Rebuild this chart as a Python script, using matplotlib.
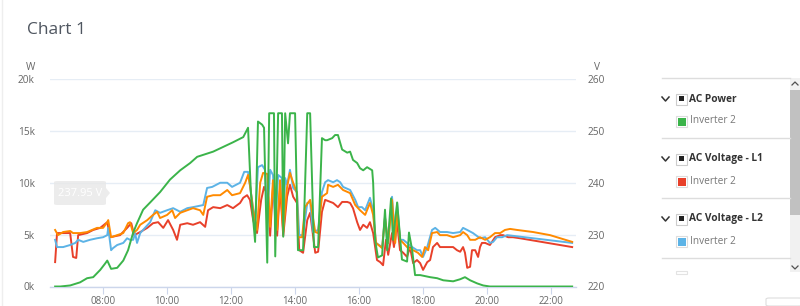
import matplotlib
matplotlib.use("Agg")
import matplotlib.pyplot as plt
from matplotlib.patches import Rectangle, FancyBboxPatch, Polygon
from matplotlib.lines import Line2D

plt.rcParams['font.family'] = ['Open Sans', 'DejaVu Sans']

# ---------------- data (hours of day, kW / V) ----------------
power_t = [6.50, 6.66, 6.97, 7.28, 7.50, 7.69, 7.91, 8.06, 8.13, 8.25, 8.44, 8.63, 8.78, 8.94,
           9.06, 9.25, 9.47, 9.78, 10.09, 10.41, 10.72, 10.94, 11.44, 12.06, 12.38, 12.53,
           12.62, 12.75, 12.84, 12.97, 13.03, 13.13, 13.19, 13.34, 13.38, 13.47, 13.59, 13.63,
           13.69, 13.78, 13.84, 14.00, 14.09, 14.25, 14.38, 14.47, 14.59, 14.72, 14.84, 14.94,
           15.00, 15.16, 15.25, 15.34, 15.47, 15.63, 15.72, 15.81, 15.94, 16.03, 16.13, 16.25,
           16.41, 16.44, 16.50, 16.59, 16.72, 16.81, 16.88, 17.00, 17.06, 17.19, 17.34, 17.50,
           17.56, 17.66, 17.75, 17.91, 18.22, 18.44, 18.63, 18.94, 19.16, 19.31, 19.47, 19.69,
           19.88, 20.09, 22.66]
power_kw = [0.0, 0.0, 0.1, 0.4, 0.8, 0.9, 1.6, 2.2, 2.5, 1.7, 1.8, 2.5, 3.5, 5.2,
            6.1, 7.4, 8.1, 9.1, 10.3, 11.2, 11.9, 12.5, 13.0, 13.9, 14.4, 15.3,
            9.0, 4.3, 15.9, 15.6, 15.3, 2.3, 16.7, 16.7, 2.9, 16.7, 16.7, 4.8,
            16.7, 13.8, 16.7, 16.7, 3.5, 3.5, 16.7, 16.7, 3.8, 3.8, 14.3, 14.1,
            14.1, 14.3, 14.6, 14.6, 13.2, 12.9, 13.0, 12.2, 11.9, 11.4, 11.2, 11.5,
            11.2, 10.0, 4.5, 2.8, 3.0, 7.4, 3.5, 8.5, 4.5, 8.1, 2.6, 2.4,
            5.2, 3.5, 1.1, 1.1, 0.9, 0.8, 0.6, 0.5, 0.7, 0.9, 0.6, 0.3,
            0.1, 0.0, 0.0]

l1_t = [6.50, 6.56, 6.97, 7.06, 7.16, 7.22, 7.50, 7.69, 7.91, 8.13, 8.22, 8.53, 8.75, 8.88,
        8.97, 9.16, 9.38, 9.56, 9.72, 9.88, 10.03, 10.19, 10.31, 10.41, 10.63, 10.81, 11.03,
        11.19, 11.28, 11.44, 11.66, 11.88, 12.06, 12.28, 12.38, 12.50, 12.59, 12.69, 12.81,
        12.94, 13.03, 13.16, 13.22, 13.31, 13.44, 13.53, 13.63, 13.75, 13.84, 13.94, 14.06,
        14.13, 14.25, 14.38, 14.47, 14.63, 14.72, 14.84, 14.94, 15.19, 15.34, 15.47, 15.63,
        15.72, 15.81, 15.94, 16.03, 16.13, 16.25, 16.34, 16.44, 16.56, 16.66, 16.75, 16.84,
        16.91, 17.03, 17.09, 17.19, 17.28, 17.38, 17.50, 17.59, 17.69, 17.81, 17.91, 18.00,
        18.13, 18.22, 18.31, 18.44, 18.53, 18.75, 18.94, 19.06, 19.16, 19.25, 19.31, 19.38,
        19.47, 19.53, 19.63, 19.72, 19.78, 19.84, 19.94, 20.09, 20.25, 20.41, 20.50, 20.66,
        20.81, 21.03, 22.66]
l1_v = [224.7, 230.3, 230.3, 225.7, 225.5, 229.9, 230.3, 230.9, 231.3, 232.4, 229.5, 229.9, 231.3, 232.2,
        229.9, 230.5, 231.3, 232.2, 232.4, 231.3, 232.8, 230.9, 229.0, 231.9, 232.2, 231.9, 232.4,
        231.5, 234.7, 235.3, 235.1, 235.7, 235.1, 236.1, 237.1, 237.6, 236.7, 232.8, 230.3,
        236.7, 239.2, 237.3, 229.8, 239.2, 229.8, 239.0, 229.8, 237.3, 239.6, 237.3, 236.1,
        227.0, 226.5, 232.8, 234.2, 226.5, 226.7, 234.4, 236.7, 236.1, 235.3, 236.3, 236.3,
        236.1, 235.1, 232.4, 230.9, 231.9, 231.3, 232.4, 230.3, 225.1, 224.7, 224.1, 229.0,
        226.1, 230.3, 227.6, 232.2, 227.0, 226.5, 225.7, 227.6, 224.5, 225.1, 224.5, 223.2,
        224.7, 225.1, 227.6, 228.4, 227.6, 227.6, 227.6, 227.0, 226.7, 227.6, 226.5, 223.6,
        223.8, 227.0, 227.0, 225.7, 227.6, 228.4, 228.4, 228.0, 229.5, 229.9, 229.9, 229.5,
        229.5, 229.3, 227.6]

l2_t = [6.50, 6.56, 6.75, 6.97, 7.13, 7.22, 7.38, 7.59, 7.81, 8.00, 8.13, 8.16, 8.25, 8.31,
        8.44, 8.63, 8.75, 8.84, 8.94, 9.00, 9.06, 9.16, 9.47, 9.63, 9.78, 10.00, 10.19, 10.41,
        10.63, 10.81, 11.13, 11.25, 11.41, 11.66, 11.88, 12.03, 12.28, 12.41, 12.53, 12.66,
        12.75, 12.84, 12.97, 13.06, 13.13, 13.22, 13.31, 13.38, 13.47, 13.59, 13.63, 13.69,
        13.75, 13.84, 13.94, 14.06, 14.13, 14.25, 14.38, 14.47, 14.56, 14.72, 14.84, 14.94,
        15.03, 15.19, 15.31, 15.41, 15.50, 15.72, 15.88, 15.97, 16.09, 16.19, 16.34, 16.44,
        16.53, 16.72, 16.81, 16.91, 17.03, 17.13, 17.19, 17.28, 17.38, 17.50, 17.66, 17.81,
        17.91, 18.00, 18.13, 18.28, 18.38, 18.53, 18.75, 18.94, 19.16, 19.25, 19.38, 19.56,
        19.78, 19.94, 20.09, 20.19, 20.31, 20.47, 20.63, 22.66]
l2_v = [229.0, 227.6, 227.6, 228.0, 228.4, 229.0, 228.6, 229.0, 229.3, 229.5, 229.9, 231.3, 227.0, 227.4,
        228.0, 228.4, 229.3, 229.0, 229.0, 230.3, 228.4, 230.3, 232.4, 234.7, 234.2, 234.7, 235.1, 234.4,
        235.1, 235.3, 235.7, 239.0, 239.2, 240.0, 240.0, 239.2, 240.0, 242.1, 242.1, 236.3,
        232.4, 243.0, 243.4, 242.5, 233.2, 242.5, 241.5, 232.4, 241.5, 240.9, 231.9, 240.9,
        239.6, 242.5, 239.0, 238.2, 229.9, 229.9, 236.1, 236.3, 230.5, 230.9, 238.2, 240.1,
        240.5, 240.1, 240.5, 240.1, 239.2, 238.6, 236.7, 235.3, 235.3, 234.7, 237.1, 234.7,
        228.4, 227.6, 233.4, 228.4, 237.3, 229.0, 236.1, 229.0, 229.0, 228.4, 227.6, 227.0,
        227.0, 225.7, 227.6, 230.9, 231.3, 230.5, 230.5, 230.3, 230.5, 231.3, 230.9, 230.3,
        229.3, 229.5, 228.4, 228.6, 229.5, 229.5, 229.9, 228.4]

l3_t = [6.50, 6.59, 6.75, 6.97, 7.06, 7.28, 7.50, 7.81, 8.00, 8.13, 8.16, 8.25, 8.44, 8.63,
        8.78, 8.84, 8.94, 9.06, 9.16, 9.38, 9.56, 9.69, 9.78, 10.00, 10.16, 10.25, 10.41, 10.63,
        10.81, 11.03, 11.13, 11.25, 11.44, 11.66, 11.88, 12.03, 12.28, 12.44, 12.53, 12.59,
        12.69, 12.81, 12.91, 13.00, 13.13, 13.22, 13.31, 13.44, 13.53, 13.63, 13.75, 13.84,
        13.94, 14.06, 14.09, 14.22, 14.31, 14.47, 14.63, 14.72, 14.84, 15.00, 15.03, 15.19,
        15.34, 15.50, 15.72, 15.88, 16.03, 16.19, 16.34, 16.44, 16.53, 16.72, 16.81, 16.91,
        17.03, 17.13, 17.19, 17.28, 17.38, 17.53, 17.69, 17.84, 17.97, 18.06, 18.16, 18.28,
        18.44, 18.53, 18.75, 18.94, 19.16, 19.25, 19.38, 19.47, 19.63, 19.78, 19.94, 20.09,
        20.25, 20.41, 20.56, 20.72, 20.94, 21.44, 21.97, 22.66]
l3_v = [230.9, 229.9, 230.5, 230.7, 230.3, 230.3, 230.5, 231.3, 231.3, 232.4, 232.8, 229.5, 229.9, 230.3,
        232.2, 232.4, 230.3, 230.9, 231.9, 232.8, 233.8, 234.4, 233.2, 233.8, 234.7, 233.2, 234.2, 234.7,
        235.1, 234.7, 233.8, 237.3, 237.6, 237.6, 238.6, 237.6, 238.0, 240.0, 241.5, 239.6,
        234.7, 230.9, 240.0, 241.9, 241.7, 231.5, 240.5, 230.9, 240.5, 230.5, 239.2, 241.9,
        240.0, 238.0, 229.5, 229.5, 235.3, 236.7, 230.5, 230.3, 237.3, 238.0, 239.6, 239.2,
        239.6, 238.6, 238.0, 235.7, 234.7, 233.8, 236.1, 233.8, 228.4, 227.4, 233.2, 228.4,
        236.7, 228.4, 234.7, 229.0, 228.4, 227.4, 227.0, 226.5, 225.7, 227.6, 227.0, 230.3,
        230.5, 229.9, 229.9, 229.5, 229.9, 230.5, 229.9, 229.0, 229.0, 229.5, 229.0, 229.5,
        230.3, 230.3, 230.9, 231.1, 230.9, 230.5, 229.9, 228.6]

x_ticks = [8, 10, 12, 14, 16, 18, 20, 22]
x_tick_labels = ["08:00", "10:00", "12:00", "14:00", "16:00", "18:00", "20:00", "22:00"]
w_ticks = [0, 5000, 10000, 15000, 20000]
w_tick_labels = ["0k", "5k", "10k", "15k", "20k"]
v_ticks = [220, 230, 240, 250, 260]
v_tick_labels = ["220", "230", "240", "250", "260"]

legend_groups = ["AC Power", "AC Voltage - L1", "AC Voltage - L2"]
legend_items = ["Inverter 2", "Inverter 2", "Inverter 2"]

GREEN = "#3bb44a"
RED = "#e8402a"
BLUE = "#5cb3e6"
ORANGE = "#ff8a00"
TXT = "#666666"

# ---------------- figure ----------------
W, H = 800, 306
fig = plt.figure(figsize=(W / 100, H / 100), dpi=100)
fig.patch.set_facecolor("white")

def fx(x):
    return x / W

def fy(y):
    return 1 - y / H

left, right, top, bot = 50, 576, 79, 286.5
ax2 = fig.add_axes([fx(left), fy(bot), (right - left) / W, (bot - top) / H])
ax = ax2.twinx()
ax.set_zorder(ax2.get_zorder() + 1)
ax.patch.set_visible(False)

ax2.plot(l1_t, l1_v, color=RED, lw=1.4, solid_joinstyle="round", zorder=3)
ax2.plot(l2_t, l2_v, color=BLUE, lw=1.4, solid_joinstyle="round", zorder=4)
ax2.plot(l3_t, l3_v, color=ORANGE, lw=1.4, solid_joinstyle="round", zorder=5)
ax.plot(power_t, [p * 1000 for p in power_kw], color=GREEN, lw=1.4, solid_joinstyle="round", zorder=6)

ax2.set_xlim(6.34, 22.78)
ax2.set_ylim(220, 260)
ax.set_ylim(0, 20000)

ax2.yaxis.tick_right()
ax2.set_yticks(v_ticks)
ax2.set_yticklabels(v_tick_labels)
ax.yaxis.tick_left()
ax.set_yticks(w_ticks)
ax.set_yticklabels(w_tick_labels)

ax2.set_xticks(x_ticks)
ax2.set_xticklabels(x_tick_labels)

for a in (ax, ax2):
    for s in a.spines.values():
        s.set_visible(False)
ax2.spines["bottom"].set_visible(True)
ax2.spines["bottom"].set_color("#ccd6eb")
ax2.spines["bottom"].set_linewidth(1.0)

ax2.grid(axis="y", color="#e6edf5", lw=1.0)
ax2.set_axisbelow(True)

ax2.tick_params(axis="x", length=5, color="#ccd6eb", labelsize=7, labelcolor=TXT, pad=2)
ax2.tick_params(axis="y", length=0, labelsize=7.3, labelcolor=TXT, pad=8)
ax.tick_params(axis="y", length=0, labelsize=7.3, labelcolor=TXT, pad=11)

fig.text(fx(31), fy(68), "W", fontsize=7.3, color=TXT, ha="center", va="center")
fig.text(fx(597), fy(68), "V", fontsize=7.3, color=TXT, ha="center", va="center")

# title
fig.text(fx(27), fy(30), "Chart 1", fontsize=12.5, color="#4f5660", ha="left", va="center")

# faint left border
fig.add_artist(Line2D([fx(1.5), fx(1.5)], [0, 1], color="#eeeeee", lw=1))

# fading tooltip remnant
tip = FancyBboxPatch((fx(54), fy(205)), 52 / W, 24 / H,
                     boxstyle="round,pad=0,rounding_size=0.004",
                     transform=fig.transFigure, facecolor="#e8e8e8", edgecolor="none",
                     alpha=0.8, zorder=10)
fig.add_artist(tip)
fig.add_artist(Polygon([[fx(106), fy(188)], [fx(110), fy(193)], [fx(106), fy(198)]],
                       closed=True, transform=fig.transFigure, facecolor="#e8e8e8",
                       edgecolor="none", alpha=0.8, zorder=10))
fig.text(fx(80), fy(193), "237.95 V", fontsize=8, color="white",
         ha="center", va="center", zorder=11)

# ---------------- legend panel ----------------
for yy in (78, 138, 198, 258):
    fig.add_artist(Line2D([fx(662), fx(790)], [fy(yy), fy(yy)], color="#dddddd", lw=1))

colors = [GREEN, RED, BLUE]
for i, (g, it) in enumerate(zip(legend_groups, legend_items)):
    y0 = 99 + 60 * i
    fig.add_artist(Line2D([fx(662), fx(665.5), fx(669)], [fy(y0 - 2), fy(y0 + 2), fy(y0 - 2)],
                          color="#333333", lw=1.1))
    fig.add_artist(Rectangle((fx(676), fy(y0 + 6)), 11 / W, 11 / H, transform=fig.transFigure,
                             facecolor="white", edgecolor="#cccccc", lw=0.8))
    fig.add_artist(Rectangle((fx(679), fy(y0 + 2)), 5 / W, 5 / H, transform=fig.transFigure,
                             facecolor="#222222", edgecolor="none"))
    fig.text(fx(689), fy(y0), g, fontsize=7.3, fontweight="bold", color="#333333",
             ha="left", va="center")
    y1 = y0 + 22
    fig.add_artist(Rectangle((fx(676), fy(y1 + 6)), 11 / W, 11 / H, transform=fig.transFigure,
                             facecolor="white", edgecolor="#dddddd", lw=0.8))
    fig.add_artist(Rectangle((fx(677.5), fy(y1 + 4.5)), 8 / W, 8 / H, transform=fig.transFigure,
                             facecolor=colors[i], edgecolor="none"))
    fig.text(fx(690), fy(y1), it, fontsize=7.3, color="#777777", ha="left", va="center")

fig.add_artist(Rectangle((fx(676), fy(274)), 11 / W, 3 / H, transform=fig.transFigure,
                         facecolor="white", edgecolor="#e3e3e3", lw=0.8))

# scrollbar
fig.add_artist(Rectangle((fx(790), fy(272)), 10 / W, 194 / H, transform=fig.transFigure,
                         facecolor="#f1f1f1", edgecolor="none"))
fig.add_artist(Rectangle((fx(790), fy(215)), 10 / W, 125 / H, transform=fig.transFigure,
                         facecolor="#c1c1c1", edgecolor="none"))
fig.add_artist(Line2D([fx(792), fx(795), fx(798)], [fy(85), fy(82), fy(85)], color="#505050", lw=0.9))
fig.add_artist(Line2D([fx(792), fx(795), fx(798)], [fy(266), fy(269), fy(266)], color="#505050", lw=0.9))

fig.add_artist(FancyBboxPatch((fx(766), fy(306)), 36 / W, 8 / H,
                              boxstyle="round,pad=0,rounding_size=0.004",
                              transform=fig.transFigure, facecolor="white",
                              edgecolor="#dddddd", lw=0.8))

fig.savefig("out.png", dpi=100)
